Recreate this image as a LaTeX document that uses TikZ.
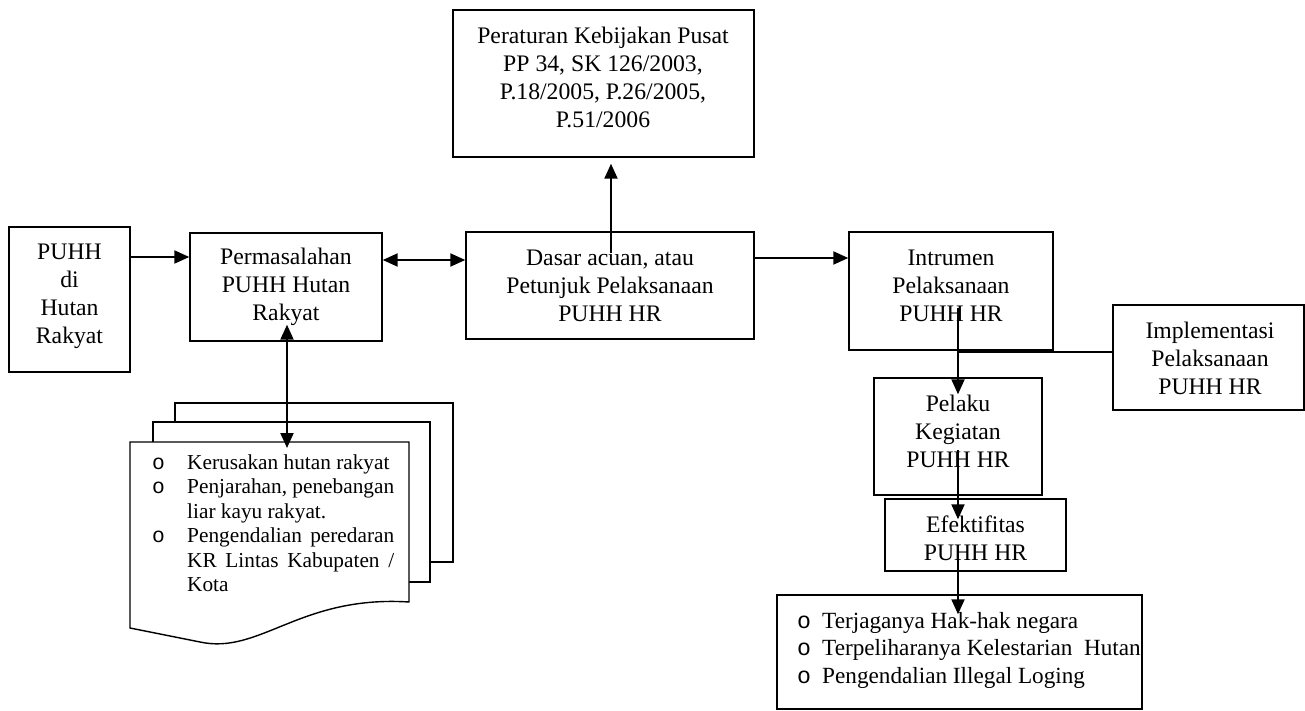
\documentclass[tikz,border=0pt]{standalone}
\usepackage{fontspec}
\setmainfont{Liberation Serif}
\newfontfamily\courfont{Liberation Mono}
\usetikzlibrary{arrows.meta}
\tikzset{
  box/.style={draw, line width=1.4pt, inner sep=0pt, fill=white},
  txt/.style={align=center, inner sep=0pt, font=\fontsize{23.7}{28}\selectfont},
  arr/.style={line width=2pt, -{Triangle[length=15pt,width=13pt]}},
  darr/.style={line width=2pt, {Triangle[length=15pt,width=13pt]}-{Triangle[length=15pt,width=13pt]}},
  thinline/.style={line width=1.4pt}
}
\newcommand{\bul}{{\courfont o}}
\begin{document}
\begin{tikzpicture}[x=1pt,y=-1pt]
\useasboundingbox (0,0) rectangle (1305,711);
% boxes
\node[box, minimum width=121pt, minimum height=145pt] (puhh) at (69.5,299.5) {};
\node[txt] (puhh-t) at (69.5,296) {PUHH\\di\\Hutan\\Rakyat};
\node[box, minimum width=192pt, minimum height=108pt] (perm) at (286,287) {};
\node[txt] (perm-t) at (286,287) {Permasalahan\\PUHH Hutan\\Rakyat};
\node[box, minimum width=288pt, minimum height=107pt] (dasar) at (610,285.5) {};
\node[txt] (dasar-t) at (610,286) {Dasar acuan, atau\\Petunjuk Pelaksanaan\\PUHH HR};
\node[box, minimum width=301pt, minimum height=147pt] (top) at (603.5,83.5) {};
\node[txt] (top-t) at (603,77) {Peraturan Kebijakan Pusat\\PP 34, SK 126/2003,\\P.18/2005, P.26/2005,\\P.51/2006};
\node[box, minimum width=204pt, minimum height=118pt] (intr) at (951,291) {};
\node[txt] (intr-t) at (951,286) {Intrumen\\Pelaksanaan\\PUHH HR};
\node[box, minimum width=191pt, minimum height=105pt] (impl) at (1208.5,357.5) {};
\node[txt] (impl-t) at (1210,358) {Implementasi\\Pelaksanaan\\PUHH HR};
\node[box, minimum width=168pt, minimum height=117pt] (pelaku) at (958,436.5) {};
\node[txt] (pelaku-t) at (958,431) {Pelaku\\Kegiatan\\PUHH HR};
\node[box, minimum width=181pt, minimum height=72pt] (efek) at (975.5,535) {};
\node[txt] (efek-t) at (975.5,538) {Efektifitas\\PUHH HR};
\node[box, minimum width=365pt, minimum height=114pt] (hasil) at (959.5,652) {};
\node[inner sep=0pt, anchor=base west, font=\fontsize{23.2}{27.5}\selectfont] (hasil-t) at (797,628)
  {\begin{tabular}[t]{@{}p{25pt}@{}l@{}}
   \bul & Terjaganya Hak-hak negara\\
   \bul & Terpeliharanya Kelestarian\ \ Hutan\\
   \bul & Pengendalian Illegal Loging
  \end{tabular}};
% multi-document
\draw[box] (175,403) rectangle (453,562);
\draw[box] (153,422) rectangle (430,582);
\draw[box] (130,442) -- (409,442) -- (409,602) .. controls (300,595) and (260,655) .. (200,642) -- (130,628) -- cycle;
\coordinate (doc-top) at (287,442);
\node[inner sep=0pt, anchor=base west, font=\fontsize{21.3}{24.5}\selectfont] (doc-t) at (152,469)
  {\begin{tabular}[t]{@{}p{35pt}@{}l@{}}
   \bul & Kerusakan hutan rakyat\\
   \bul & \makebox[207pt][s]{Penjarahan, penebangan}\\
        & liar kayu rakyat.\\
   \bul & \makebox[207pt][s]{Pengendalian peredaran}\\
        & \makebox[207pt][s]{KR Lintas Kabupaten /}\\
        & Kota
  \end{tabular}};
% connectors
\draw[arr] (puhh.east |- 0,257) -- (perm.west |- 0,257);
\draw[darr] (perm.east |- 0,260) -- (dasar.west |- 0,260);
\coordinate (d-up) at (611,253);
\draw[arr] (d-up) -- ([yshift=-6pt]top.south -| d-up);
\draw[arr] (dasar.east |- 0,258) -- (intr.west |- 0,258);
\coordinate (i-down) at (958,308);
\draw[thinline] (impl.west |- 0,352) -- (i-down |- 0,352);
\draw[arr] (i-down) -- ([yshift=-17pt]pelaku.north -| i-down);
\coordinate (p-down) at (958,450);
\draw[arr] (p-down) -- ([yshift=-21pt]efek.north -| p-down);
\coordinate (e-down) at (958,545);
\draw[arr] (e-down) -- ([yshift=-20pt]hasil.north -| e-down);
\draw[darr] ([yshift=17pt]perm.south -| doc-top) -- ([yshift=-6pt]doc-top);
\end{tikzpicture}
\end{document}
